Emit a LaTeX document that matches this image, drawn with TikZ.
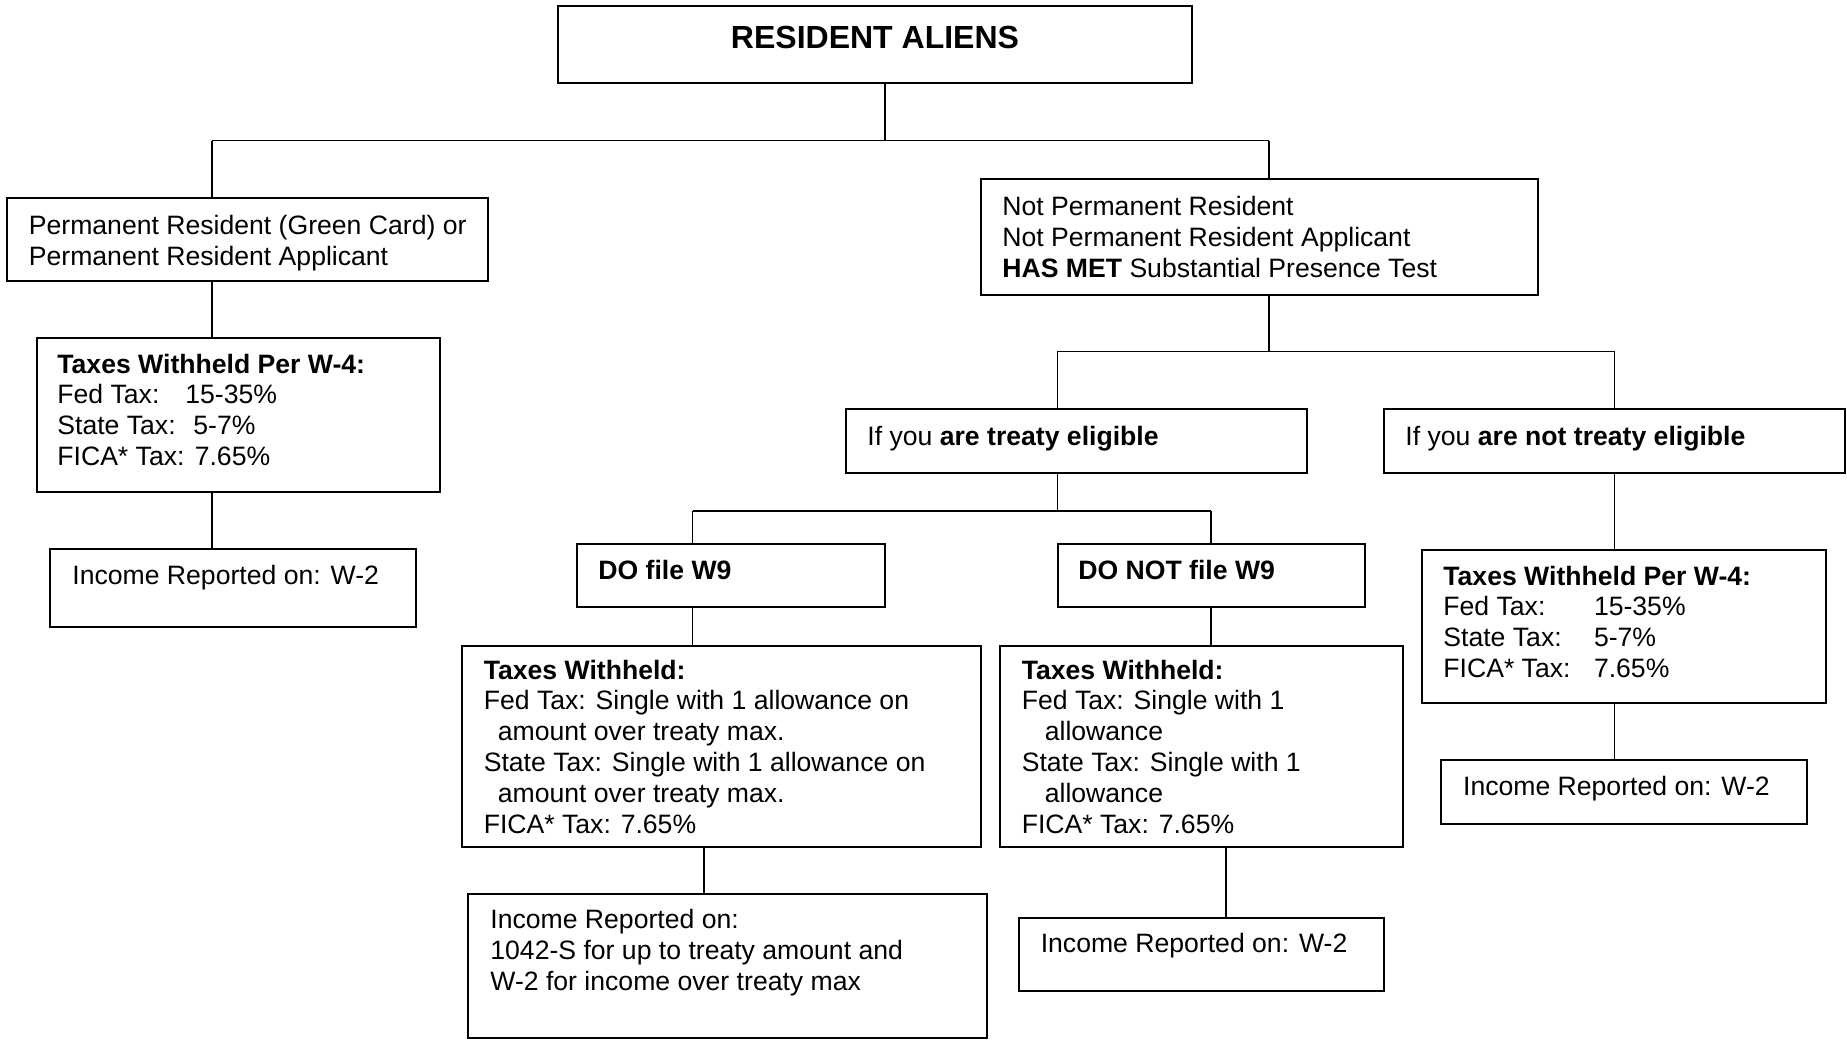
\documentclass[tikz,border=0pt]{standalone}
\usepackage{fontspec}
\setmainfont{Liberation Sans}
\usetikzlibrary{fit}
\newcommand\bodyfont{\fontsize{13.3}{15.4}\selectfont}
\newcommand\titlefont{\fontsize{16}{19}\selectfont\bfseries}
\begin{document}
\begin{tikzpicture}[x=0.5pt,y=-0.5pt,
  box/.style={draw, line width=1pt, inner sep=0pt},
  txt/.style={inner sep=0pt, anchor=base west, align=left, font=\bodyfont},
  conn/.style={draw, line width=0.75pt}]
\useasboundingbox (0,0) rectangle (1847,1039);
% boxes
\node[box, fit={(557.5,6)(1192,83)}] (top) {};
\node[box, fit={(7,198)(487.5,281)}] (pr) {};
\node[box, fit={(37,338)(440,492)}] (tw1) {};
\node[box, fit={(50,549)(416,626.7)}] (inc1) {};
\node[box, fit={(980.5,179)(1538,294.7)}] (np) {};
\node[box, fit={(846,409)(1307,473)}] (te) {};
\node[box, fit={(1384,409)(1845,473)}] (nte) {};
\node[box, fit={(577,543.7)(885,607.3)}] (dow) {};
\node[box, fit={(1057.6,543.7)(1364.8,607.3)}] (dnw) {};
\node[box, fit={(462,645.7)(981,846.7)}] (twdo) {};
\node[box, fit={(1000,645.7)(1403,846.7)}] (twdn) {};
\node[box, fit={(468,894)(987,1037.5)}] (incs) {};
\node[box, fit={(1019,918.3)(1384,990.7)}] (inc2) {};
\node[box, fit={(1422,549.7)(1825.6,703.3)}] (tw3) {};
\node[box, fit={(1441,760.3)(1807,824)}] (inc3) {};
% texts (anchored at the baseline of their last line)
\node[inner sep=0pt, anchor=base, font=\titlefont] (topt) at (875,48) {RESIDENT ALIENS};
\node[txt] (prt) at (28.5,265) {Permanent Resident (Green Card) or\\Permanent Resident Applicant};
\node[txt] (tw1t) at (57,465.5) {\textbf{Taxes Withheld Per W-4:}\\
  \makebox[64pt][l]{Fed Tax:}15-35\%\\
  \makebox[68pt][l]{State Tax:}5-7\%\\
  \makebox[68.7pt][l]{FICA* Tax:}7.65\%};
\node[txt] (inc1t) at (72,584) {Income Reported on: W-2};
\node[txt] (npt) at (1002,277) {Not Permanent Resident\\Not Permanent Resident Applicant\\\textbf{HAS MET} Substantial Presence Test};
\node[txt] (tet) at (867,445) {If you \textbf{are treaty eligible}};
\node[txt] (ntet) at (1405,445) {If you \textbf{are not treaty eligible}};
\node[txt] (dowt) at (598,579.3) {\textbf{DO file W9}};
\node[txt] (dnwt) at (1078,579.3) {\textbf{DO NOT file W9}};
\node[txt] (twdot) at (483.4,833) {\textbf{Taxes Withheld:}\\
  Fed Tax: Single with 1 allowance on\\
  \hspace*{7pt}amount over treaty max.\\
  State Tax: Single with 1 allowance on\\
  \hspace*{7pt}amount over treaty max.\\
  FICA* Tax: 7.65\%};
\node[txt] (twdnt) at (1021.4,833) {\textbf{Taxes Withheld:}\\
  Fed Tax: Single with 1\\
  \hspace*{11.5pt}allowance\\
  State Tax: Single with 1\\
  \hspace*{11.5pt}allowance\\
  FICA* Tax: 7.65\%};
\node[txt] (incst) at (490,990) {Income Reported on:\\1042-S for up to treaty amount and\\W-2 for income over treaty max};
\node[txt] (inc2t) at (1040.4,952.7) {Income Reported on: W-2};
\node[txt] (tw3t) at (1443,677.5) {\textbf{Taxes Withheld Per W-4:}\\
  \makebox[75.3pt][l]{Fed Tax:}15-35\%\\
  \makebox[75.3pt][l]{State Tax:}5-7\%\\
  \makebox[75.3pt][l]{FICA* Tax:}7.65\%};
\node[txt] (inc3t) at (1462.7,795) {Income Reported on: W-2};
% junctions
\coordinate (s0) at (885,140.7);
\coordinate (b1) at (212,140.7);
\coordinate (b2) at (1269,140.7);
\coordinate (s2) at (1269,351.3);
\coordinate (c1) at (1057.6,351.3);
\coordinate (c2) at (1614.5,351.3);
\coordinate (s3) at (1057.6,511);
\coordinate (d1) at (692.7,511);
\coordinate (d2) at (1211,511);
\coordinate (e1) at (704,0);
\coordinate (e2) at (1226,0);
% connectors
\draw[conn] (top.south -| s0) -- (s0);
\draw[conn] (b1) -- (b2);
\draw[conn] (b1) -- (pr.north -| b1);
\draw[conn] (b2) -- (np.north -| b2);
\draw[conn] (pr.south -| b1) -- (tw1.north -| b1);
\draw[conn] (tw1.south -| b1) -- (inc1.north -| b1);
\draw[conn] (np.south -| s2) -- (s2);
\draw[conn] (c1) -- (c2);
\draw[conn] (c1) -- (te.north -| c1);
\draw[conn] (c2) -- (nte.north -| c2);
\draw[conn] (te.south -| s3) -- (s3);
\draw[conn] (d1) -- (d2);
\draw[conn] (d1) -- (dow.north -| d1);
\draw[conn] (d2) -- (dnw.north -| d2);
\draw[conn] (dow.south -| d1) -- (twdo.north -| d1);
\draw[conn] (dnw.south -| d2) -- (twdn.north -| d2);
\draw[conn] (twdo.south -| e1) -- (incs.north -| e1);
\draw[conn] (twdn.south -| e2) -- (inc2.north -| e2);
\draw[conn] (nte.south -| c2) -- (tw3.north -| c2);
\draw[conn] (tw3.south -| c2) -- (inc3.north -| c2);
\end{tikzpicture}
\end{document}
